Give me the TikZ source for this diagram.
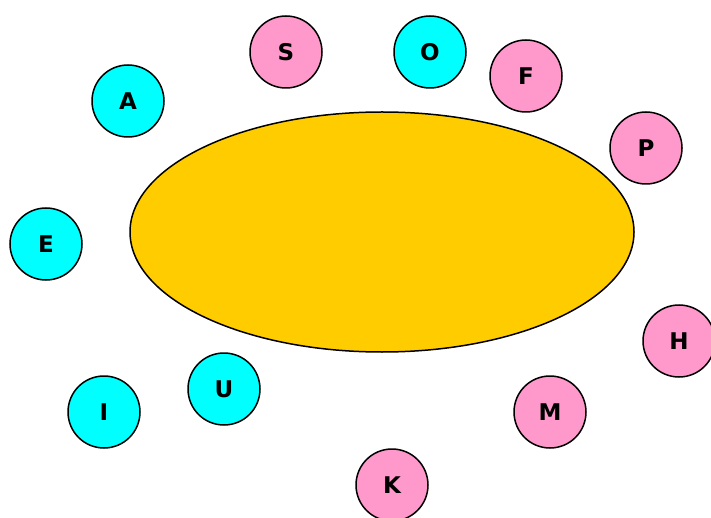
\documentclass[tikz,border=0pt]{standalone}
\usepackage{fontspec}
\setmainfont{DejaVu Sans}
\usetikzlibrary{shapes.geometric}
\definecolor{ballcyan}{HTML}{00FFFF}
\definecolor{ballpink}{HTML}{FF99CC}
\definecolor{blobyellow}{HTML}{FFCC00}
\tikzset{
	ball/.style={circle, draw=black, line width=1.5pt, minimum size=72pt, inner sep=0pt,
		font=\fontsize{23}{26}\selectfont\bfseries},
	blob/.style={ellipse, draw=black, line width=1.5pt, fill=blobyellow,
		minimum width=504pt, minimum height=240pt, inner sep=0pt}
}
\begin{document}
\begin{tikzpicture}[x=1pt,y=-1pt]
		\useasboundingbox (0,0) rectangle (711,518);
		\clip (0,0) rectangle (711,518);
		\node[blob] (blob) at (382,232) {};
		% letters round the blob
		\foreach \name/\x/\y/\col in {S/286/52/ballpink, O/430/52/ballcyan,
			F/526/76/ballpink, A/128/101/ballcyan, P/646/148/ballpink,
			E/46/244/ballcyan, H/679/341/ballpink, U/224/389/ballcyan,
			I/104/412/ballcyan, M/550/412/ballpink, K/392/485/ballpink} {
			\node[ball, fill=\col] (ball\name) at (\x,\y) {\name};
		}
	\end{tikzpicture}
\end{document}
